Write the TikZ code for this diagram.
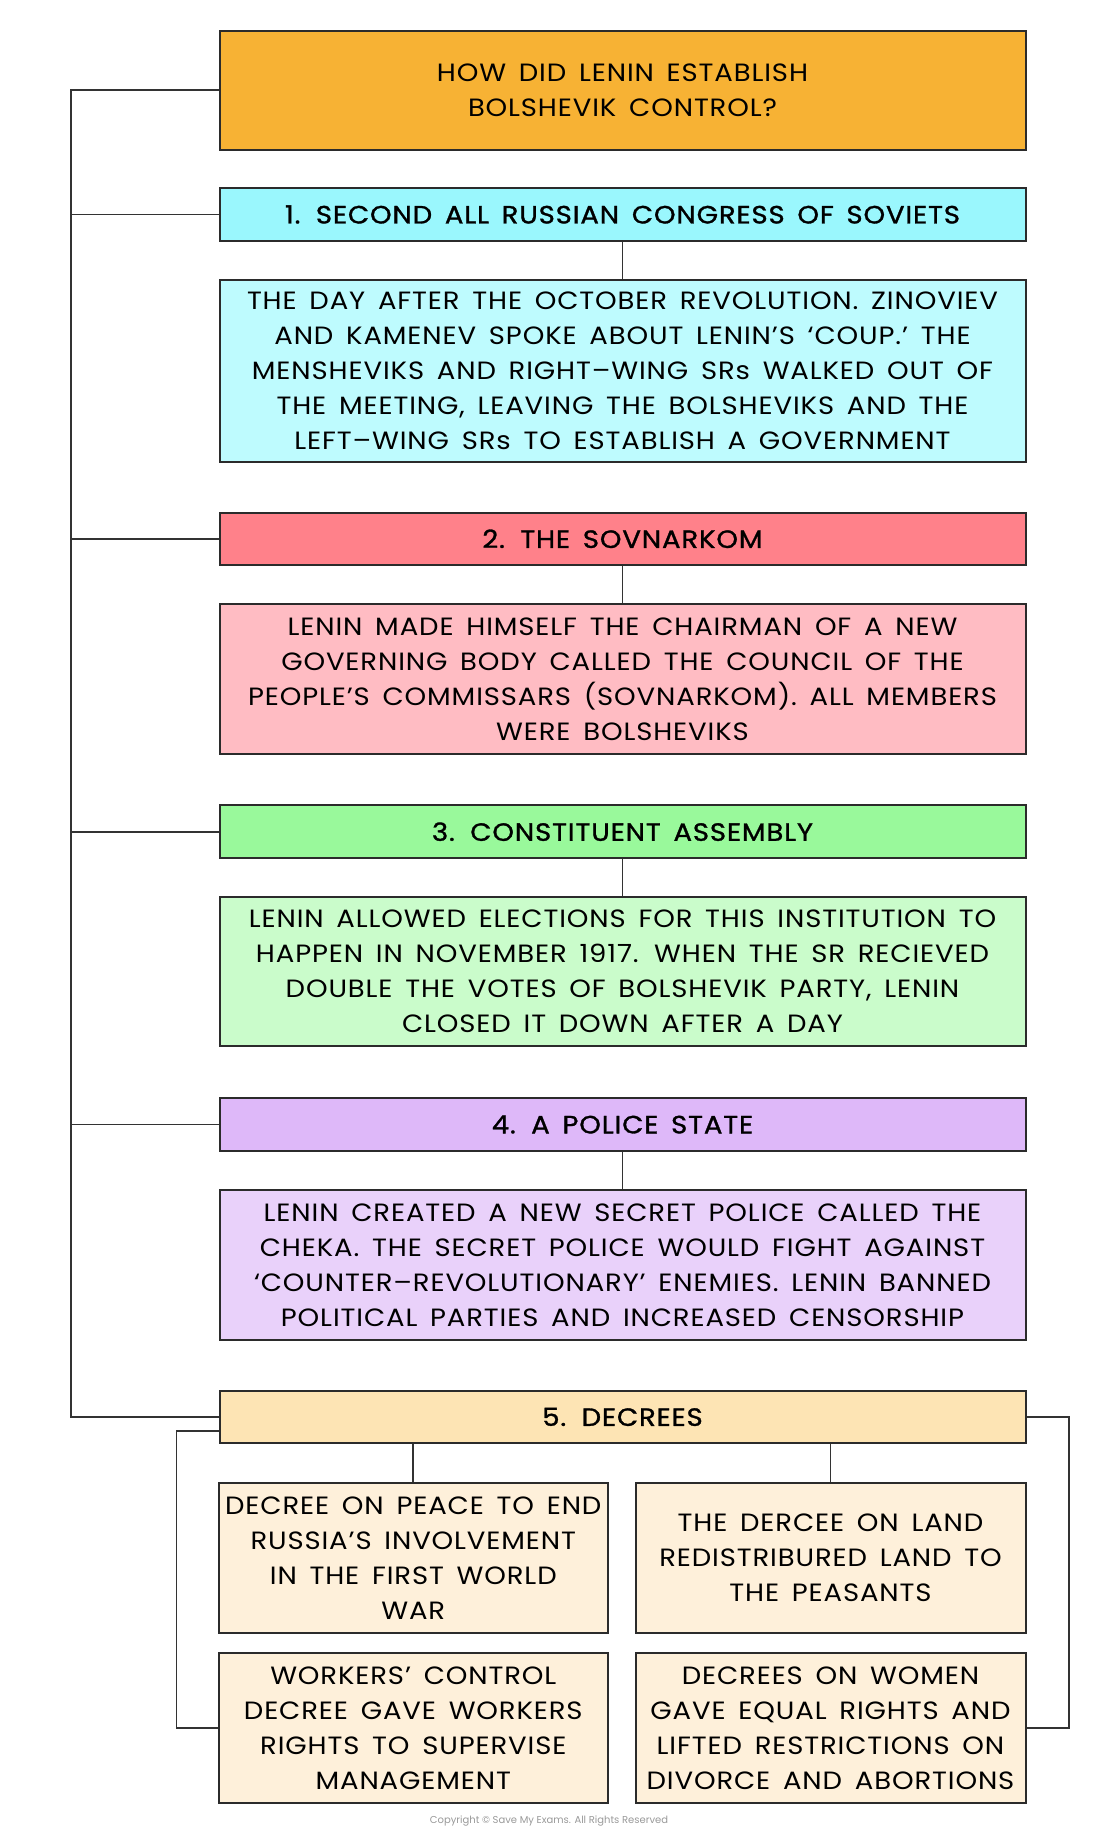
\documentclass[tikz,border=0pt]{standalone}
\usepackage{fontspec}
\setmainfont{Poppins}[FakeStretch=1.1,LetterSpace=3.5,WordSpace=1.55]
\newfontfamily\copyfont{Poppins}
\usetikzlibrary{calc}
\definecolor{boxline}{HTML}{2B2B2B}
\definecolor{lineclr}{HTML}{333333}
\definecolor{ctop}{HTML}{F7B234}
\definecolor{hone}{HTML}{9AF7FD}
\definecolor{bone}{HTML}{BEFBFE}
\definecolor{htwo}{HTML}{FF818A}
\definecolor{btwo}{HTML}{FFBCC3}
\definecolor{hthree}{HTML}{99F99B}
\definecolor{bthree}{HTML}{CAFCCB}
\definecolor{hfour}{HTML}{DEB8F9}
\definecolor{bfour}{HTML}{E9D1FA}
\definecolor{hfive}{HTML}{FDE4B4}
\definecolor{bfive}{HTML}{FEF0DA}
\definecolor{copyclr}{HTML}{9A9A9A}
\begin{document}
\begin{tikzpicture}[x=1pt,y=-1pt,
  box/.style={draw=boxline, line width=2pt, inner sep=0pt, align=center,
    font=\fontsize{25}{35}\selectfont},
  mainw/.style={minimum width=806pt},
  hdr/.style={box, mainw, minimum height=53pt,
    font=\fontsize{25}{35}\selectfont\addfontfeature{FakeBold=1.2}},
  body/.style={box, mainw},
  sub/.style={box, fill=bfive, minimum width=389pt, minimum height=150pt},
  conn/.style={draw=lineclr, line width=1.8pt}]
\useasboundingbox (0,0) rectangle (1100,1838);
\fill[white] (0,0) rectangle (1100,1838);

\node[box, mainw, fill=ctop, minimum height=119pt] (top) at (622.5,90.3)
  {HOW DID LENIN ESTABLISH\\BOLSHEVIK CONTROL?};

\node[hdr, fill=hone] (h1) at (622.5,214.5) {1. SECOND ALL RUSSIAN CONGRESS OF SOVIETS};
\node[body, fill=bone, minimum height=182pt] (b1) at (622.5,371)
  {THE DAY AFTER THE OCTOBER REVOLUTION. ZINOVIEV\\
   AND KAMENEV SPOKE ABOUT LENIN’S ‘COUP.’ THE\\
   MENSHEVIKS AND RIGHT–WING SRs WALKED OUT OF\\
   THE MEETING, LEAVING THE BOLSHEVIKS AND THE\\
   LEFT–WING SRs TO ESTABLISH A GOVERNMENT};

\node[hdr, fill=htwo, minimum height=52.5pt] (h2) at (622.5,538.8) {2. THE SOVNARKOM};
\node[body, fill=btwo, minimum height=150pt] (b2) at (622.5,679.4)
  {LENIN MADE HIMSELF THE CHAIRMAN OF A NEW\\
   GOVERNING BODY CALLED THE COUNCIL OF THE\\
   PEOPLE’S COMMISSARS (SOVNARKOM). ALL MEMBERS\\
   WERE BOLSHEVIKS};

\node[hdr, fill=hthree] (h3) at (622.5,831.7) {3. CONSTITUENT ASSEMBLY};
\node[body, fill=bthree, minimum height=149pt] (b3) at (622.5,971.7)
  {LENIN ALLOWED ELECTIONS FOR THIS INSTITUTION TO\\
   HAPPEN IN NOVEMBER 1917. WHEN THE SR RECIEVED\\
   DOUBLE THE VOTES OF BOLSHEVIK PARTY, LENIN\\
   CLOSED IT DOWN AFTER A DAY};

\node[hdr, fill=hfour, minimum height=52.4pt] (h4) at (622.5,1124.5) {4. A POLICE STATE};
\node[body, fill=bfour, minimum height=150pt] (b4) at (622.5,1265)
  {LENIN CREATED A NEW SECRET POLICE CALLED THE\\
   CHEKA. THE SECRET POLICE WOULD FIGHT AGAINST\\
   ‘COUNTER–REVOLUTIONARY’ ENEMIES. LENIN BANNED\\
   POLITICAL PARTIES AND INCREASED CENSORSHIP};

\node[hdr, fill=hfive, minimum height=52.3pt] (h5) at (622.5,1416.9) {5. DECREES};

\node[sub] (d1) at (413.3,1557.7)
  {DECREE ON PEACE TO END\\RUSSIA’S INVOLVEMENT\\IN THE FIRST WORLD\\WAR};
\node[sub, minimum width=390pt] (d2) at (830.5,1557.7)
  {THE DERCEE ON LAND\\REDISTRIBURED LAND TO\\THE PEASANTS};
\node[sub, minimum height=150.6pt] (d3) at (413.3,1728)
  {WORKERS’ CONTROL\\DECREE GAVE WORKERS\\RIGHTS TO SUPERVISE\\MANAGEMENT};
\node[sub, minimum width=390pt, minimum height=150.6pt] (d4) at (830.5,1728)
  {DECREES ON WOMEN\\GAVE EQUAL RIGHTS AND\\LIFTED RESTRICTIONS ON\\DIVORCE AND ABORTIONS};

\node[text=copyclr, font=\copyfont\fontsize{10}{12}\selectfont] (copy) at (549,1821)
  {Copyright © Save My Exams. All Rights Reserved};

% trunk
\coordinate (tx) at (70.7,90.3);
\coordinate (lb) at (176.4,1728);
\coordinate (rb) at (1069,1728);
\draw[conn] (top.west) -- (tx) |- (h5.west);
\foreach \h in {h1,h2,h3,h4} \draw[conn] (\h.west) -- (\h.west -| tx);
% vertical links
\draw[conn] (h1.south) -- (b1.north);
\draw[conn] (h2.south) -- (b2.north);
\draw[conn] (h3.south) -- (b3.north);
\draw[conn] (h4.south) -- (b4.north);
\draw[conn] (d1.north) -- (d1.north |- h5.south);
\draw[conn] (d2.north) -- (d2.north |- h5.south);
% brackets
\draw[conn] ([yshift=-14pt]h5.west) -| (lb) -- (d3.west);
\draw[conn] (h5.east) -| (rb) -- (d4.east);
\end{tikzpicture}
\end{document}
